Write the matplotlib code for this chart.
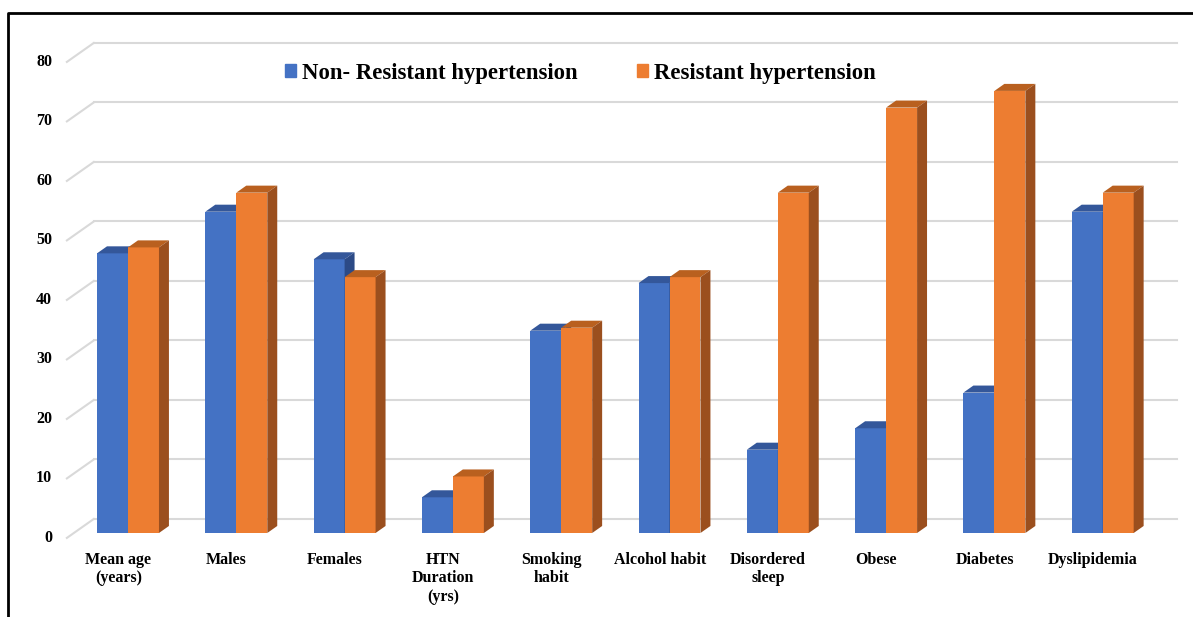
import matplotlib.pyplot as plt
from matplotlib.patches import Polygon, Patch
from matplotlib.lines import Line2D

categories = ['Mean age\n(years)', 'Males', 'Females', 'HTN\nDuration\n(yrs)', 'Smoking\nhabit',
              'Alcohol habit', 'Disordered\nsleep', 'Obese', 'Diabetes', 'Dyslipidemia']
non_resistant = [47, 54, 46, 6, 34, 42, 14, 17.6, 23.6, 54]
resistant = [48, 57.2, 43, 9.5, 34.5, 43, 57.2, 71.5, 74.3, 57.2]
yticks = [0, 10, 20, 30, 40, 50, 60, 70, 80]
series_names = ['Non- Resistant hypertension', 'Resistant hypertension']

# colours: front, top, side
blue = ('#4472C4', '#34579A', '#2C4A86')
orange = ('#ED7D31', '#B9601F', '#9B4F1E')

# fake 3d: one depth step (bar depth) in data units
DX = 0.092
DY = 1.18
BW = 0.286

plt.rcParams['font.family'] = ['Liberation Serif', 'DejaVu Serif']
plt.rcParams['font.weight'] = 'bold'

fig = plt.figure(figsize=(11.93, 6.17), dpi=100)
ax = fig.add_axes([0, 0, 1, 1])
# pixel mapping: x=128px -> cat 0, 108.3 px/cat ; y=533px -> 0, 5.95 px/unit
ax.set_xlim((0 - 128) / 108.3, (1193 - 128) / 108.3)
ax.set_ylim((533 - 617) / 5.95, 533 / 5.95)
ax.axis('off')

n = len(categories)
x_left, x_right = -0.5, n - 0.5
wall_d = 2.0
floor_d = -0.7

# back wall gridlines + floor diagonal
for v in yticks:
    ax.plot([x_left + wall_d * DX, x_right + wall_d * DX],
            [v + wall_d * DY, v + wall_d * DY], color='#D9D9D9', lw=1.5, zorder=1)
    ax.plot([x_left + floor_d * DX, x_left + wall_d * DX],
            [v + floor_d * DY, v + wall_d * DY], color='#D9D9D9', lw=1.5, zorder=1)
    ax.text(x_left - 0.2, v + floor_d * DY, str(v), ha='right', va='center',
            fontsize=11.5, fontweight='bold')


def draw_bar(x0, h, cols, z):
    front, top, side = cols
    ax.bar(x0, h, width=BW, align='edge', color=front, zorder=z)
    ax.add_patch(Polygon([(x0, h), (x0 + BW, h), (x0 + BW + DX, h + DY), (x0 + DX, h + DY)],
                         closed=True, facecolor=top, edgecolor='none', zorder=z))
    ax.add_patch(Polygon([(x0 + BW, 0), (x0 + BW + DX, DY), (x0 + BW + DX, h + DY), (x0 + BW, h)],
                         closed=True, facecolor=side, edgecolor='none', zorder=z))


for i in range(n):
    draw_bar(i - BW, non_resistant[i], blue, 2 + i * 2)
    draw_bar(i, resistant[i], orange, 3 + i * 2)
    ax.text(i - 0.09, -3.2, categories[i], ha='center', va='top', fontsize=11.5,
            fontweight='bold', linespacing=1.2)

handles = [Patch(color=blue[0]), Patch(color=orange[0])]
fig.legend(handles, series_names, loc='center', bbox_to_anchor=(580 / 1193, 1 - 73 / 617),
           ncol=2, frameon=False, prop={'size': 16.4, 'weight': 'bold'},
           handlelength=0.5, handleheight=0.5, handletextpad=0.25, columnspacing=2.6)

# outer frame (left and top edges)
fig.add_artist(Line2D([8 / 1193, 8 / 1193, 1], [0, 1 - 13 / 617, 1 - 13 / 617],
                      color='black', lw=2, transform=fig.transFigure))

fig.savefig('out.png', dpi=100)
